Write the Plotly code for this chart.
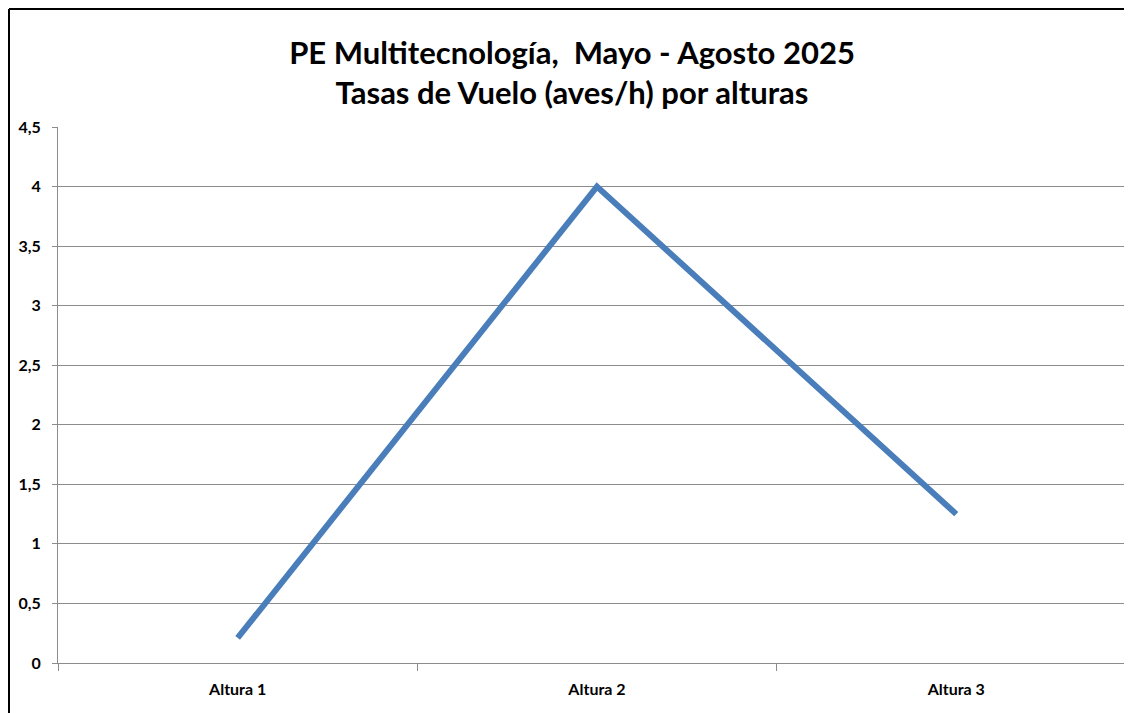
import plotly.graph_objects as go

categories = ["Altura 1", "Altura 2", "Altura 3"]
values = [0.21, 4.0, 1.25]
y_tickvals = [0, 0.5, 1, 1.5, 2, 2.5, 3, 3.5, 4, 4.5]
y_ticktext = ["0", "0,5", "1", "1,5", "2", "2,5", "3", "3,5", "4", "4,5"]
title_lines = ["PE Multitecnología,  Mayo - Agosto 2025", "Tasas de Vuelo (aves/h) por alturas"]

W, H = 1124, 705
ml, mr, mt, mb = 50, 0, 119, 50
pw, ph = W - ml - mr, H - mt - mb
cat_w = 359.3

fig = go.Figure()
fig.add_trace(go.Scatter(
    x=categories, y=values, mode="lines",
    line=dict(color="#4A7EBB", width=6),
    hoverinfo="skip", showlegend=False,
))

grid = "#8C8C8C"
font = "Lato, 'Open Sans', Arial, sans-serif"

fig.update_layout(
    width=W, height=H,
    margin=dict(l=ml, r=mr, t=mt, b=mb, autoexpand=False),
    paper_bgcolor="white", plot_bgcolor="white",
    showlegend=False,
    title=dict(
        text="<br>".join(title_lines),
        x=564 / W, xanchor="center", xref="container",
        y=1 - 56 / H, yanchor="middle", yref="container",
        font=dict(family=font, size=31, color="black", weight="bold"),
    ),
    xaxis=dict(
        type="category", range=[-0.5, -0.5 + pw / cat_w],
        showgrid=False, showline=True, linecolor=grid, linewidth=1,
        ticks="outside", tickson="boundaries", ticklen=7, tickcolor=grid,
        tickfont=dict(family=font, size=16, color="black", weight="bold"),
        ticklabelstandoff=12,
    ),
    yaxis=dict(
        range=[0, 4.5], tickvals=y_tickvals, ticktext=y_ticktext,
        showgrid=True, gridcolor=grid, gridwidth=1,
        showline=True, linecolor=grid, linewidth=1,
        ticks="outside", ticklen=5, tickcolor=grid,
        tickfont=dict(family=font, size=16, color="black", weight="bold"),
        ticklabelstandoff=8,
        zeroline=False,
    ),
)

# outer chart border (left and top edges visible)
bx = (1 - ml) / pw
by = 1 + (mt - 1) / ph
fig.add_shape(type="line", xref="paper", yref="paper", x0=bx, x1=bx, y0=by, y1=-0.2,
              line=dict(color="black", width=2))
fig.add_shape(type="line", xref="paper", yref="paper", x0=bx, x1=1.1, y0=by, y1=by,
              line=dict(color="black", width=2))

fig.write_html("out.html")
